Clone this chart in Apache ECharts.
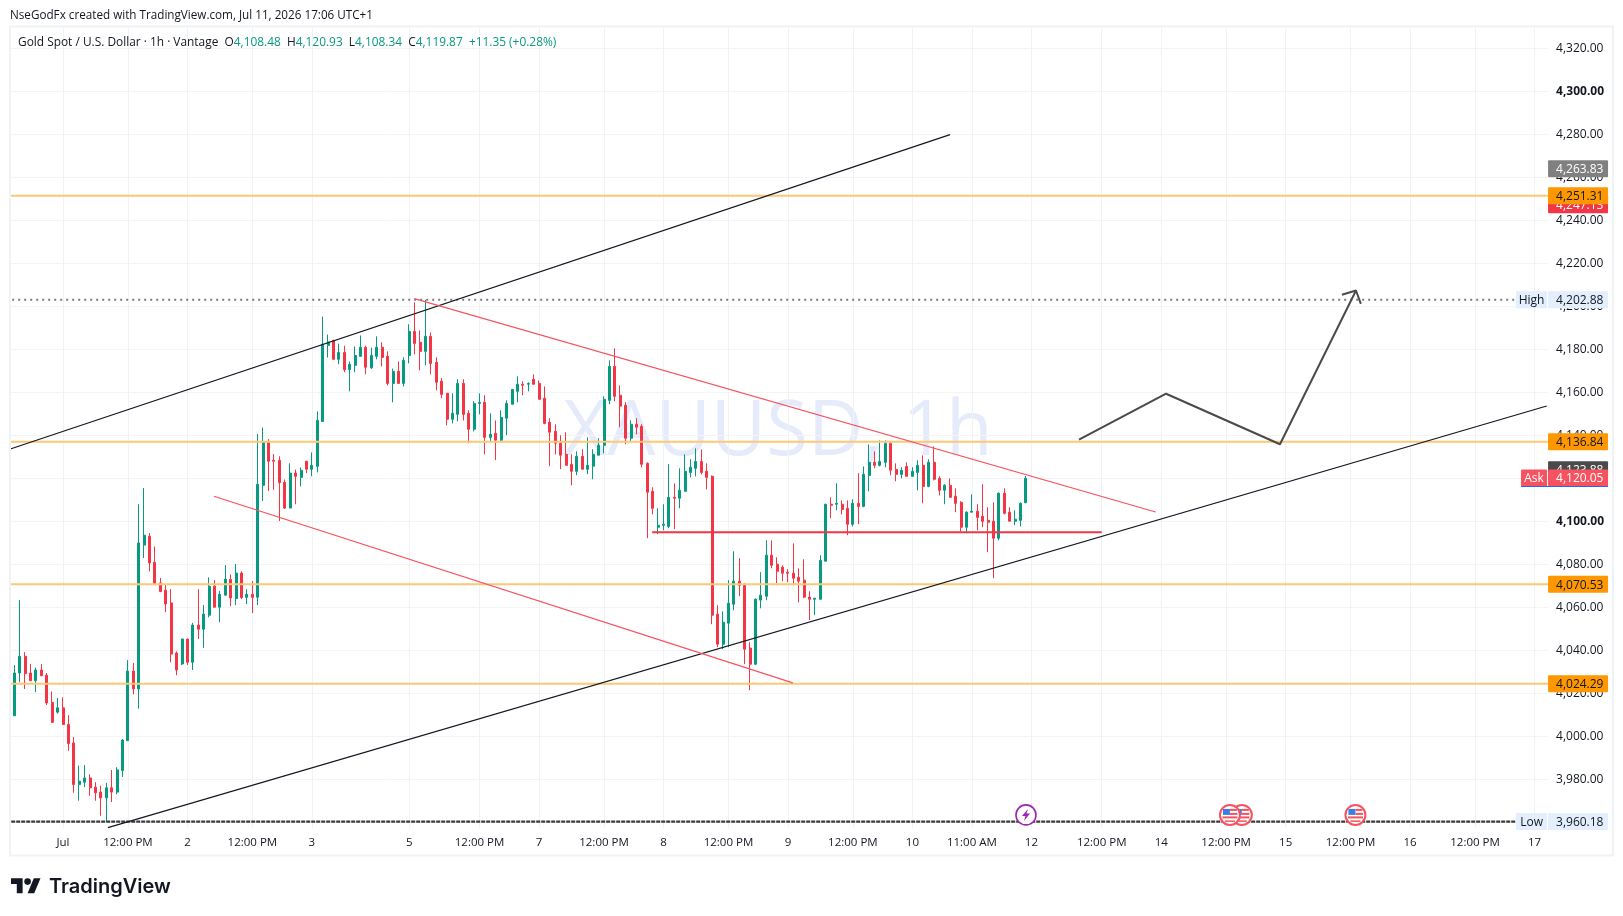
<!DOCTYPE html>
<html><head><meta charset="utf-8">
<style>html,body{margin:0;padding:0;background:#fff}#c{width:1623px;height:916px}</style>
<script src="https://cdn.jsdelivr.net/npm/echarts@6/dist/echarts.min.js"></script>
</head><body><div id="c"></div>
<script>
// [open, close, low, high] hourly candles
const ohlc = [
[4029.3,4009.4,4009.4,4033.5],[4009.4,4029.3,4009.4,4033.0],[4029.3,4037.1,4025.0,4063.2],[4037.1,4029.0,4021.9,4039.0],[4029.3,4025.7,4025.7,4033.5],[4025.7,4030.7,4020.4,4031.8],
[4030.7,4028.0,4028.0,4033.5],[4028.3,4015.4,4014.4,4029.3],[4015.6,4006.4,4006.1,4020.7],[4011.1,4013.1,4010.4,4017.7],[4013.1,4005.3,4005.3,4018.0],[4005.4,3996.5,3993.1,4009.7],
[3996.8,3977.4,3973.6,3999.5],[3977.4,3979.0,3969.9,3986.2],[3978.5,3980.5,3976.2,3986.5],[3980.5,3975.9,3972.2,3982.2],[3976.2,3973.6,3969.9,3978.5],[3973.9,3971.2,3962.9,3976.9],
[3971.2,3975.9,3960.18,3978.2],[3975.9,3973.9,3969.3,3984.2],[3973.9,3984.2,3972.9,3985.5],[3983.9,3998.1,3980.9,3998.6],[3997.8,4030.2,3997.8,4035.3],[4030.2,4021.9,4019.4,4034.0],
[4021.9,4089.8,4012.7,4107.8],[4088.8,4093.4,4082.8,4115.3],[4092.9,4080.5,4076.6,4094.4],[4080.8,4070.5,4070.2,4088.2],[4071.2,4067.2,4066.9,4073.5],[4067.8,4061.4,4057.6,4070.5],
[4061.9,4038.1,4034.3,4068.3],[4038.6,4030.7,4028.3,4039.3],[4033.5,4045.1,4033.0,4045.2],[4045.1,4034.3,4033.0,4045.2],[4034.3,4051.6,4030.7,4052.6],[4051.6,4049.7,4045.1,4068.3],
[4049.7,4056.7,4041.0,4060.9],[4056.2,4069.7,4055.2,4073.8],[4069.7,4059.9,4059.9,4072.5],[4059.9,4065.9,4052.9,4067.5],[4065.5,4073.0,4065.5,4079.5],[4072.8,4064.2,4060.4,4075.2],
[4063.9,4075.8,4060.9,4080.0],[4075.8,4064.4,4063.7,4076.6],[4064.5,4065.9,4061.4,4068.3],[4065.9,4064.5,4057.2,4072.0],[4064.5,4117.1,4060.9,4140.5],[4116.6,4136.7,4109.3,4143.5],
[4136.7,4127.8,4114.0,4138.1],[4128.2,4127.8,4114.5,4131.1],[4128.2,4117.8,4100.0,4130.1],[4118.0,4106.0,4105.7,4119.3],[4106.0,4122.3,4106.0,4126.9],[4122.3,4120.8,4107.8,4123.9],
[4120.3,4123.6,4116.1,4124.9],[4127.8,4124.1,4122.3,4127.9],[4124.1,4125.9,4120.8,4131.9],[4125.4,4146.8,4122.6,4151.0],[4146.3,4182.3,4146.3,4195.1],[4181.7,4183.3,4176.0,4186.7],
[4184.0,4175.2,4175.2,4184.3],[4175.2,4178.4,4172.9,4182.5],[4178.4,4170.4,4169.2,4181.5],[4170.5,4172.9,4160.3,4174.2],[4172.4,4177.0,4169.2,4181.2],[4176.6,4180.8,4176.6,4186.3],
[4180.8,4171.5,4168.2,4181.5],[4171.3,4177.0,4170.7,4180.6],[4176.6,4180.8,4175.2,4185.9],[4180.8,4176.1,4171.9,4183.1],[4176.6,4164.0,4163.1,4178.9],[4164.0,4169.6,4155.2,4170.9],
[4169.6,4164.0,4164.0,4174.2],[4164.0,4174.7,4162.6,4176.1],[4177.0,4188.2,4173.3,4191.5],[4188.2,4182.6,4177.5,4201.7],[4183.1,4178.9,4170.1,4188.7],[4178.9,4185.9,4172.4,4202.88],
[4185.9,4173.3,4168.2,4187.7],[4173.8,4164.5,4160.8,4176.1],[4165.0,4158.9,4157.1,4166.4],[4159.4,4147.3,4144.5,4159.5],[4147.3,4150.1,4145.4,4159.4],[4149.6,4164.0,4146.4,4165.9],
[4164.0,4149.6,4146.8,4165.9],[4150.1,4142.7,4136.2,4151.5],[4142.7,4154.7,4141.7,4155.7],[4154.7,4155.2,4149.6,4159.4],[4155.2,4138.9,4131.0,4158.5],[4138.9,4140.3,4136.6,4150.1],
[4140.8,4137.6,4128.3,4146.8],[4137.6,4148.2,4137.1,4151.5],[4147.8,4154.7,4139.9,4156.1],[4154.3,4161.2,4154.3,4161.3],[4160.3,4163.6,4155.2,4167.3],[4163.6,4163.1,4158.5,4165.0],
[4163.6,4164.0,4160.3,4164.5],[4165.9,4163.6,4163.6,4168.2],[4164.0,4156.6,4156.6,4165.4],[4157.1,4145.4,4145.0,4162.6],[4145.9,4141.3,4125.5,4147.8],[4141.7,4136.2,4131.0,4145.0],
[4136.2,4130.6,4124.1,4139.9],[4131.0,4125.9,4125.9,4141.3],[4126.4,4123.1,4116.6,4131.0],[4123.1,4130.1,4121.3,4132.4],[4130.1,4124.1,4124.1,4133.4],[4124.1,4125.9,4121.8,4138.9],
[4125.5,4131.0,4119.4,4133.4],[4130.6,4135.2,4130.6,4138.5],[4135.2,4156.6,4131.5,4158.0],[4156.1,4171.9,4154.3,4174.7],[4171.9,4158.0,4155.7,4180.3],[4158.5,4153.4,4143.6,4163.1],
[4153.8,4138.5,4135.7,4155.2],[4138.5,4145.0,4136.6,4146.8],[4145.0,4143.6,4140.3,4147.8],[4144.0,4126.4,4125.0,4145.0],[4126.8,4113.4,4092.0,4127.3],[4113.8,4105.9,4103.1,4115.7],
[4097.1,4098.0,4093.9,4105.9],[4098.0,4098.5,4095.7,4107.8],[4097.5,4111.0,4096.6,4126.4],[4111.0,4110.6,4096.2,4117.5],[4110.6,4114.3,4105.9,4124.5],[4113.8,4123.1,4113.8,4131.0],
[4122.6,4125.0,4120.3,4128.7],[4124.5,4127.7,4120.8,4133.8],[4127.7,4122.6,4121.7,4133.3],[4123.1,4120.3,4114.7,4126.8],[4120.8,4056.2,4052.0,4121.2],[4056.7,4042.7,4041.3,4060.8],
[4042.7,4052.9,4040.4,4058.0],[4052.5,4061.8,4041.3,4072.5],[4061.3,4072.0,4058.5,4085.9],[4072.0,4070.1,4065.0,4082.7],[4070.6,4040.4,4033.4,4071.1],[4040.9,4033.4,4021.3,4043.6],
[4033.4,4063.6,4033.0,4064.1],[4063.2,4065.5,4059.4,4076.2],[4065.0,4084.1,4063.2,4091.0],[4084.1,4079.4,4078.0,4091.0],[4079.9,4076.6,4071.1,4083.1],[4078.5,4075.7,4072.0,4079.4],
[4076.2,4075.7,4071.5,4077.6],[4075.7,4073.4,4070.1,4089.6],[4073.8,4072.0,4062.2,4078.0],[4072.5,4064.6,4064.1,4082.2],[4064.6,4063.6,4053.9,4067.3],[4063.6,4064.1,4056.2,4064.2],
[4063.6,4081.7,4063.6,4084.1],[4081.3,4107.8,4081.3,4107.9],[4107.8,4107.3,4101.3,4111.0],[4107.8,4108.2,4105.0,4117.5],[4107.8,4105.4,4103.1,4109.6],[4105.9,4098.5,4093.4,4109.6],
[4098.5,4108.2,4097.5,4110.1],[4108.2,4106.8,4098.5,4122.2],[4106.8,4121.7,4106.4,4125.4],[4121.2,4127.3,4113.8,4135.6],[4127.3,4125.9,4124.5,4132.4],[4125.9,4127.7,4125.4,4137.5],
[4127.3,4136.1,4125.0,4137.5],[4136.1,4123.6,4121.2,4136.6],[4124.0,4121.7,4118.5,4126.8],[4121.7,4123.6,4119.8,4125.0],[4125.4,4120.8,4120.8,4127.3],[4120.8,4123.1,4120.8,4125.0],
[4122.6,4125.9,4114.3,4128.2],[4125.9,4116.1,4108.2,4130.5],[4116.1,4127.3,4115.7,4128.7],[4127.3,4119.4,4118.9,4134.7],[4119.8,4114.3,4111.9,4120.8],[4114.3,4116.6,4107.8,4117.1],
[4116.6,4111.0,4111.0,4119.8],[4111.5,4108.2,4104.1,4115.2],[4108.7,4097.1,4095.2,4109.2],[4097.1,4104.1,4094.3,4104.5],[4104.1,4104.5,4104.1,4112.4],[4104.5,4101.7,4095.7,4107.8],
[4102.2,4099.9,4097.1,4117.1],[4100.3,4099.4,4085.5,4106.4],[4099.9,4092.0,4073.4,4108.7],[4092.0,4112.9,4091.0,4113.3],[4112.9,4103.6,4103.1,4115.2],[4104.1,4099.9,4099.9,4106.4],
[4099.9,4100.8,4098.0,4105.0],[4100.3,4108.2,4097.5,4108.7],[4108.48,4119.87,4108.34,4120.93]
];

const slotCount = 285;
const tickIndex = [10,22,33,45,56,74,87,98,110,121,133,144,156,167,178,189,202,213,225,236,248,259,271,282];
const tickLabels = ['Jul','12:00 PM','2','12:00 PM','3','5','12:00 PM','7','12:00 PM','8','12:00 PM','9','12:00 PM','10','11:00 AM','12','12:00 PM','14','12:00 PM','15','12:00 PM','16','12:00 PM','17'];

// price levels
const orangeLevels = [4251.31,4136.84,4070.53,4024.29];
const highValue = 4202.88, lowValue = 3960.18;
const levelEndIndex = 278.6;

// drawings as [bar index, price]
const blackUpper = [[0.26,4133.5],[173.96,4279.7]];
const blackLower = [[18.3,3957.4],[284.25,4153.5]];
const redUpper = [[74.94,4203.4],[211.97,4104.2]];
const redLower = [[37.9,4111.5],[144.9,4024.7]];
const redSupport = [[118.9,4094.8],[202,4094.8]];
const pathArrow = [[197.8,4137.8],[213.9,4159.2],[234.95,4135.7],[249,4207.2]];
const arrowHead = [[246.4,4205.2],[249,4207.2],[249.9,4201.0]];

// price tags on the right
const tagPrices = [4263.83,4247.13,4251.31,4202.88,4136.84,4123.88,4120.05,4070.53,4024.29,3960.18];
const tagTexts = ['4,263.83','4,247.13','4,251.31','4,202.88','4,136.84','4,123.88','4,120.05','4,070.53','4,024.29','3,960.18'];
const tagNames = ['','','','High','','','Ask','','','Low'];
const tagFills = ['#808080','#f23645','#ff9800','#e3effd','#ff9800','#4a4a4a','#f7525f','#ff9800','#ff9800','#e3effd'];
const tagInks = ['#fff','#fff','#131722','#131722','#131722','#fff','#fff','#131722','#131722','#131722'];

// event markers on the time line
const eventIndex = [188,248.9,227.9,225.7];
const eventKinds = ['bolt','flag','flag','flag'];
const eventPrice = 3963.3;

const FONT = '"Open Sans", sans-serif';
const categories = Array.from({length:slotCount},(_, i)=>{const k=tickIndex.indexOf(i);return k>=0?tickLabels[k]:'';});
const isTick = i => tickIndex.indexOf(i)>=0;
const fmt = v => v.toLocaleString('en-US',{minimumFractionDigits:2,maximumFractionDigits:2});

const lineSeries = (data,color,width,type) => ({type:'line',xAxisIndex:1,yAxisIndex:0,data,symbol:'none',silent:true,z:5,
  lineStyle:{color,width,type:type||'solid',cap:'butt'},emphasis:{disabled:true}});

const chart = echarts.init(document.getElementById('c'),null,{renderer:'canvas'});
const option = {
  animation:false,backgroundColor:'#fff',
  // grid 0 holds the marks; grid 1 is the same price scale, extended to round ends, and carries the price ticks
  grid:[{left:6.2,top:27,width:1541.85,height:801},{left:6.2,top:5,width:1541.85,height:860}],
  tooltip:{show:false},
  xAxis:[
   {type:'category',gridIndex:0,data:categories,boundaryGap:true,axisLine:{show:false},axisTick:{show:false},
    axisLabel:{interval:(i)=>isTick(i),color:'#131722',fontFamily:FONT,fontSize:11.5,margin:9,hideOverlap:false},
    splitLine:{show:true,alignWithLabel:true,interval:(i)=>isTick(i),lineStyle:{color:'#f0f3f6',width:1}}},
   {type:'value',gridIndex:0,min:-0.5,max:slotCount-0.5,show:false,splitLine:{show:false}},
   {type:'value',gridIndex:1,min:0,max:1,show:false,splitLine:{show:false}}
  ],
  yAxis:[
   {type:'value',gridIndex:0,min:3957.21,max:4329.77,show:false,splitLine:{show:false}},
   {type:'value',gridIndex:1,position:'right',min:3940,max:4340,interval:20,
    axisLine:{show:false},axisTick:{show:false},
    splitLine:{show:true,showMinLine:false,showMaxLine:false,lineStyle:{color:'#f3f4f6',width:1}},
    axisLabel:{show:true,showMinLabel:false,showMaxLabel:false,margin:8,padding:[2,0,0,0],color:'#131722',fontFamily:FONT,fontSize:12,
      formatter:(v)=>{ const s=fmt(v); return (v===4300||v===4100)?'{b|'+s+'}':s; },
      rich:{b:{fontWeight:'bold',fontFamily:FONT,fontSize:12,color:'#131722'}}}}
  ],
  series:[
    {type:'candlestick',xAxisIndex:0,yAxisIndex:0,data:ohlc,barWidth:2.5,z:4,silent:true,clip:true,
     itemStyle:{color:'#089981',color0:'#f23645',borderColor:'#089981',borderColor0:'#f23645',borderWidth:1}},
    ...orangeLevels.map(p=>lineSeries([[-0.5,p],[slotCount-0.5,p]],'#fcc875',2)),
    lineSeries([[-0.5,highValue],[levelEndIndex,highValue]],'#787b86',2,[2,4]),
    lineSeries([[-0.5,lowValue],[levelEndIndex,lowValue]],'#3a3a3a',2.4,[4,1]),
    lineSeries(blackUpper,'#131722',1.2),
    lineSeries(blackLower,'#131722',1.2),
    lineSeries(redUpper,'#f7525f',1.2),
    lineSeries(redLower,'#f7525f',1.2),
    lineSeries(redSupport,'#f23645',2),
    lineSeries(pathArrow,'#4a4a4a',2),
    lineSeries(arrowHead,'#4a4a4a',2),
    {type:'custom',xAxisIndex:1,yAxisIndex:0,z:8,silent:true,clip:false,
     data:eventIndex.map((x,i)=>[x,eventPrice,i]),
     renderItem:(p,api)=>{
       const c=api.coord([api.value(0),api.value(1)]), x=c[0], y=c[1];
       const kind=eventKinds[api.value(2)];
       if(kind==='bolt') return {type:'group',children:[
         {type:'circle',shape:{cx:x,cy:y,r:10},style:{fill:'#fff',stroke:'#9c27b0',lineWidth:1.6}},
         {type:'polygon',shape:{points:[[x+2,y-6],[x-4,y+1],[x-0.5,y+1],[x-2,y+6],[x+4,y-1.5],[x+0.5,y-1.5]]},style:{fill:'#9c27b0'}}]};
       return {type:'group',children:[
         {type:'circle',shape:{cx:x,cy:y,r:10},style:{fill:'#fff',stroke:'#f7525f',lineWidth:2}},
         {type:'rect',shape:{x:x-7,y:y-6,width:7,height:6},style:{fill:'#3d7fe0'}},
         {type:'rect',shape:{x:x,y:y-6,width:7,height:2},style:{fill:'#f7525f'}},
         {type:'rect',shape:{x:x,y:y-2,width:7.5,height:2},style:{fill:'#f7525f'}},
         {type:'rect',shape:{x:x-7.5,y:y+1.5,width:15,height:2},style:{fill:'#f7525f'}},
         {type:'rect',shape:{x:x-5,y:y+5.5,width:10,height:1.5},style:{fill:'#f7525f'}}]};
     }},
    {type:'custom',xAxisIndex:1,yAxisIndex:0,z:9,silent:true,clip:false,
     data:tagPrices.map((v,i)=>[slotCount-0.5,v,i]),
     renderItem:(p,api)=>{
       const c=api.coord([api.value(0),api.value(1)]), x=c[0], y=c[1], i=api.value(2);
       const kids=[{type:'rect',shape:{x:x,y:y-8.5,width:60,height:17,r:1},style:{fill:tagFills[i]}},
         {type:'text',style:{x:x+8,y:y+1,text:tagTexts[i],fill:tagInks[i],font:'12px '+FONT,textVerticalAlign:'middle',textAlign:'left'}}];
       if(tagNames[i]){const w=tagNames[i]==='Ask'?26:31;kids.push(
         {type:'rect',shape:{x:x-w-1,y:y-8.5,width:w,height:17,r:1},style:{fill:tagFills[i]}},
         {type:'text',style:{x:x-1-w/2,y:y+1,text:tagNames[i],fill:tagInks[i],font:'12px '+FONT,textVerticalAlign:'middle',textAlign:'center'}});}
       if(tagNames[i]==='Ask') kids.push({type:'rect',shape:{x:x-27,y:y+8,width:87,height:1},style:{fill:'#2962ff'}});
       return {type:'group',children:kids};
     }}
  ],
  graphic:[
    {type:'text',z:-1,style:{x:778,y:433,text:'XAUUSD, 1h',fill:'#e6ebfc',font:'76px '+FONT,textAlign:'center',textVerticalAlign:'middle'}},
    {type:'rect',z:50,shape:{x:0,y:0,width:10,height:835},style:{fill:'#fff'}},
    {type:'rect',z:50,shape:{x:0,y:0,width:1623,height:26},style:{fill:'#fff'}},
    {type:'rect',z:50,shape:{x:10,y:855,width:1540,height:15},style:{fill:'#fff'}},
    {type:'rect',z:51,shape:{x:10,y:26.5,width:1603,height:829},style:{fill:'none',stroke:'#f0f3f6',lineWidth:2}},
    {type:'text',z:60,style:{x:10,y:16,text:'NseGodFx created with TradingView.com, Jul 11, 2026 17:06 UTC+1',fill:'#131722',font:'11.7px '+FONT,textVerticalAlign:'middle'}},
    {type:'text',z:60,style:{x:18,y:43,textVerticalAlign:'middle',font:'11.9px '+FONT,fill:'#131722',
      text:'{k|Gold Spot / U.S. Dollar · 1h · Vantage  O}{v|4,108.48}{k|  H}{v|4,120.93}{k|  L}{v|4,108.34}{k|  C}{v|4,119.87  +11.35 (+0.28%)}',
      rich:{k:{fill:'#131722',font:'11.9px '+FONT},v:{fill:'#089981',font:'11.9px '+FONT}}}},
    {type:'polygon',z:60,shape:{points:[[22.6,893.3],[16.8,893.3],[16.8,884.1],[11,884.1],[11,878.3],[22.6,878.3]]},style:{fill:'#131722'}},
    {type:'polygon',z:60,shape:{points:[[34.2,893.3],[27.6,893.3],[33.8,878.3],[40.5,878.3]]},style:{fill:'#131722'}},
    {type:'circle',z:60,shape:{cx:27.6,cy:881.6,r:3.3},style:{fill:'#131722'}},
    {type:'text',z:60,style:{x:49,y:887,text:'TradingView',fill:'#131722',font:'600 20px Inter, sans-serif',textVerticalAlign:'middle'}}
  ]
};
chart.setOption(option);
</script></body></html>
